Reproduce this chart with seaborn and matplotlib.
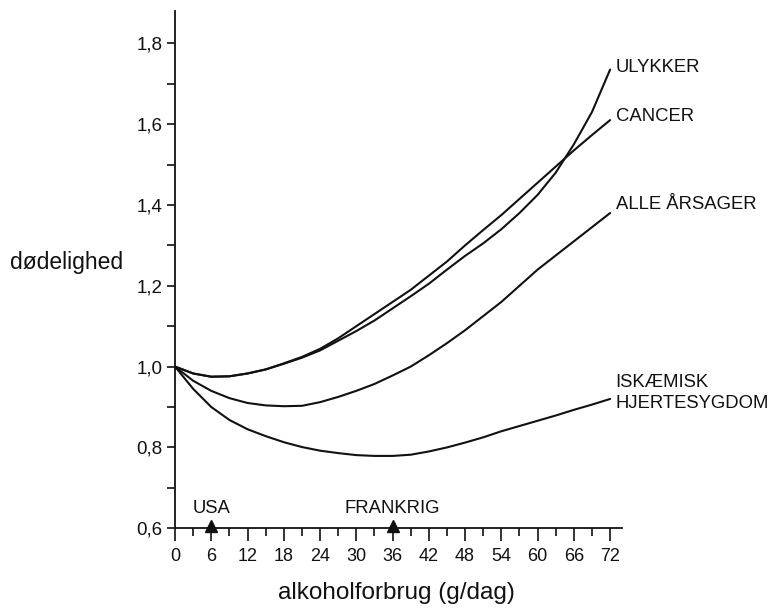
import matplotlib
matplotlib.use('Agg')
import matplotlib.pyplot as plt
import pandas as pd
import seaborn as sns
from matplotlib.ticker import FixedLocator

# Data (alcohol g/day vs relative mortality)
alkohol = [0, 3, 6, 9, 12, 15, 18, 21, 24, 27, 30, 33, 36, 39, 42, 45, 48, 51, 54, 57, 60, 63, 66, 69, 72]
ulykker = [1.0, 0.983, 0.975, 0.976, 0.983, 0.993, 1.007, 1.022, 1.04, 1.064, 1.088, 1.114, 1.144,
           1.174, 1.205, 1.24, 1.274, 1.305, 1.34, 1.38, 1.425, 1.48, 1.55, 1.63, 1.735]
cancer = [1.0, 0.983, 0.975, 0.976, 0.983, 0.993, 1.008, 1.024, 1.044, 1.07, 1.1, 1.13, 1.16,
          1.19, 1.225, 1.26, 1.3, 1.338, 1.375, 1.415, 1.455, 1.495, 1.535, 1.573, 1.61]
alle_aarsager = [1.0, 0.965, 0.94, 0.922, 0.91, 0.904, 0.902, 0.903, 0.912, 0.925, 0.94, 0.957, 0.978,
                 1.0, 1.028, 1.058, 1.09, 1.125, 1.16, 1.2, 1.24, 1.275, 1.31, 1.345, 1.38]
iskaemisk = [1.0, 0.945, 0.9, 0.868, 0.845, 0.828, 0.813, 0.801, 0.792, 0.786, 0.781, 0.779, 0.779,
             0.782, 0.79, 0.8, 0.812, 0.825, 0.84, 0.853, 0.866, 0.879, 0.893, 0.906, 0.92]

serie_navne = ['ULYKKER', 'CANCER', 'ALLE ÅRSAGER', 'ISKÆMISK\nHJERTESYGDOM']
serie_data = [ulykker, cancer, alle_aarsager, iskaemisk]
label_y = [1.739, 1.62, 1.40, 0.934]

lande = ['USA', 'FRANKRIG']
lande_x = [6, 36]

y_ticks = [0.6, 0.8, 1.0, 1.2, 1.4, 1.6, 1.8]
y_ticklabels = ['0,6', '0,8', '1,0', '1,2', '1,4', '1,6', '1,8']
x_ticks = list(range(0, 73, 6))

# long format for seaborn
rows = []
for navn, vals in zip(serie_navne, serie_data):
    for x, v in zip(alkohol, vals):
        rows.append({'alkohol': x, 'dodelighed': v, 'serie': navn})
df = pd.DataFrame(rows)

sns.set_style('ticks')
plt.rcParams['font.family'] = ['Liberation Sans', 'DejaVu Sans']

fig = plt.figure(figsize=(7.71, 6.10), dpi=100)
ax = fig.add_axes([0.227, 0.134, 0.580, 0.848])

for navn in serie_navne:
    sns.lineplot(data=df[df['serie'] == navn], x='alkohol', y='dodelighed',
                 color='#111111', linewidth=1.5, ax=ax, legend=False)

ax.set_xlim(0, 74)
ax.set_ylim(0.6, 1.88)

# axes look
for s in ['top', 'right']:
    ax.spines[s].set_visible(False)
for s in ['left', 'bottom']:
    ax.spines[s].set_color('#111111')
    ax.spines[s].set_linewidth(1.3)

ax.set_xticks(x_ticks)
ax.set_xticklabels([str(t) for t in x_ticks])
ax.xaxis.set_minor_locator(FixedLocator(list(range(3, 73, 6))))
ax.set_yticks(y_ticks)
ax.set_yticklabels(y_ticklabels)
ax.yaxis.set_minor_locator(FixedLocator([0.7, 0.9, 1.1, 1.3, 1.5, 1.7]))

ax.tick_params(axis='x', which='major', direction='out', length=9, width=1.2,
               color='#111111', labelsize=13, pad=5, labelcolor='#111111')
ax.tick_params(axis='x', which='minor', direction='out', length=6, width=1.2, color='#111111')
ax.tick_params(axis='y', which='both', direction='out', length=6, width=1.2,
               color='#111111', labelsize=13.5, pad=3, labelcolor='#111111')

ax.set_xlabel('alkoholforbrug (g/dag)', fontsize=17.5, color='#111111')
ax.xaxis.set_label_coords(0.495, -0.103)
ax.set_ylabel('dødelighed', fontsize=16.5, rotation=0, ha='left', va='center', color='#111111')
ax.yaxis.set_label_coords(-0.369, 0.514)

# curve labels at the right
for navn, ly in zip(serie_navne, label_y):
    ax.text(72.9, ly, navn, fontsize=13.3, ha='left', va='center', color='#111111',
            linespacing=1.3, clip_on=False)

# country markers on the x axis
ax.plot(lande_x, [0.606] * len(lande_x), marker='^', linestyle='none', markersize=9,
        color='#111111', clip_on=False, zorder=5)
for navn, lx in zip(lande, lande_x):
    ax.text(lx, 0.628, navn, fontsize=13.3, ha='center', va='bottom', color='#111111')

fig.savefig('out.png', dpi=100, facecolor='white')
